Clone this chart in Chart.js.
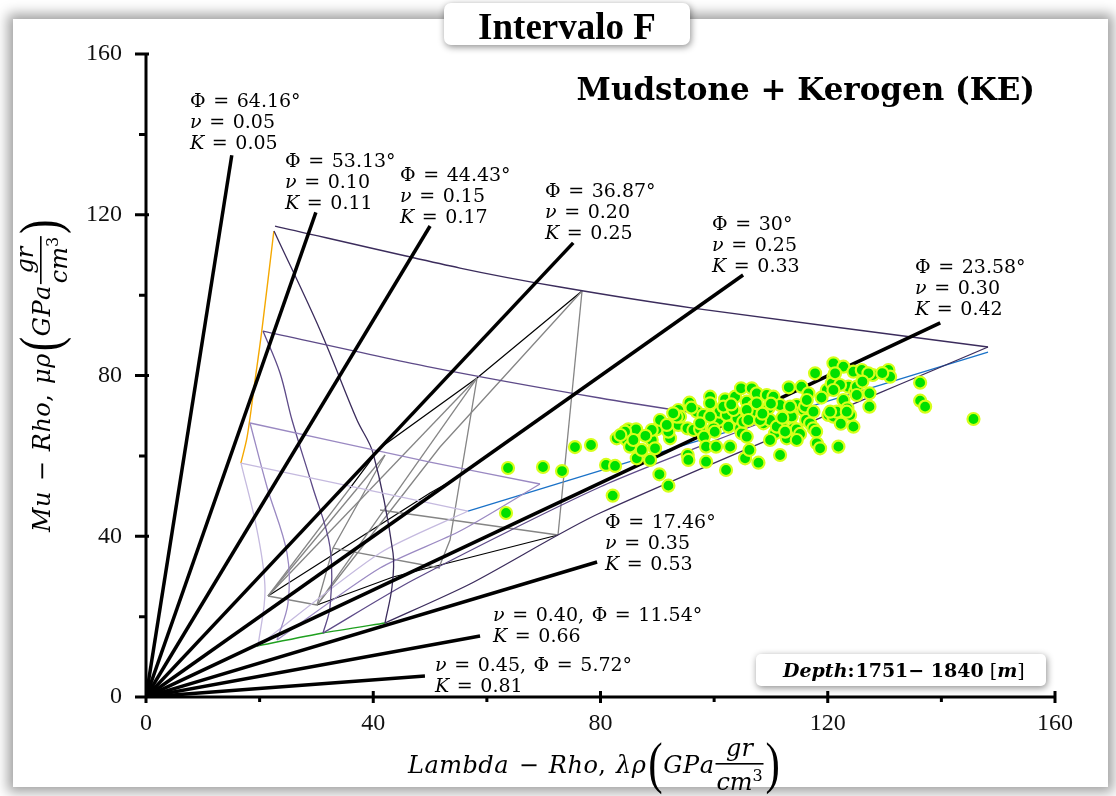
<!DOCTYPE html>
<html>
<head>
<meta charset="utf-8">
<script src="https://cdn.jsdelivr.net/npm/chart.js@4.4.0/dist/chart.umd.min.js"></script>
<style>
  html, body { margin: 0; padding: 0; background: #fff; overflow: hidden; }
  #frame { position: absolute; left: 13px; top: 19px; width: 1095px; height: 768px; background: #fff;
           box-shadow: 0 0 12px 5px rgba(0, 0, 0, 0.38); }
  #wrap { position: absolute; left: 0; top: 0; width: 1116px; height: 796px; }
</style>
</head>
<body>
<div id="frame"></div>
<div id="wrap"><canvas id="rpt"></canvas></div>
<script>
// ---- Well data (Intervalo F, 1751-1840 m) ----
const lambdaRho = [
  80.98, 82.56, 82.15, 82.85, 84.61, 84.91, 86.26, 85.20, 86.38, 88.72, 89.02, 89.60, 89.90, 90.48, 90.37,
  91.95, 92.24, 91.95, 93.71, 93.71, 94.00, 95.30, 95.65, 95.35, 95.47, 96.35, 96.94, 97.53, 98.11, 98.23,
  98.58, 98.58, 99.29, 99.29, 100.34, 100.75, 100.93, 101.93, 102.22, 102.51, 102.10, 102.81, 103.69, 104.10,
  104.57, 104.74, 104.86, 105.15, 105.45, 105.74, 106.21, 106.62, 106.91, 107.21, 107.50, 107.80, 108.68,
  109.26, 109.56, 109.85, 110.44, 110.73, 111.61, 111.61, 111.90, 112.78, 113.14, 113.66, 113.96, 114.54,
  114.54, 115.13, 115.37, 115.72, 116.01, 116.19, 116.60, 116.89, 117.48, 117.48, 117.77, 117.95, 118.07,
  118.65, 119.83, 120.12, 121.00, 121.00, 120.71, 121.00, 121.59, 121.88, 122.76, 122.76, 123.64, 123.46,
  123.94, 124.52, 124.52, 124.81, 125.11, 125.99, 127.34, 127.34, 127.92, 130.68, 130.98, 136.26, 136.26,
  137.14, 145.65,
  63.72, 69.88, 73.23, 75.51, 78.33, 63.37,
  84.32, 85.79, 89.02, 93.42, 97.53, 99.87, 101.63, 103.39, 105.74, 106.03, 107.50, 108.09, 111.02, 112.49,
  113.37, 116.31, 120.41, 121.29, 122.17, 123.35, 125.11, 127.16, 87.26, 91.66, 105.74, 109.85, 114.54,
  121.00, 99.29,
  83.5, 87.9, 92.8, 96.0, 100.1, 103.0, 108.5, 110.0, 112.0, 118.9, 122.3, 126.1, 129.6
];
const muRho = [
  57.74, 57.49, 50.11, 64.37, 63.95, 66.61, 66.61, 62.30, 59.39, 58.98, 63.95, 61.88, 66.61, 68.93, 55.41,
  52.59, 64.37, 66.03, 71.42, 67.69, 69.76, 66.86, 73.24, 60.22, 58.98, 66.44, 71.00, 66.61, 70.17, 64.78,
  62.30, 58.56, 74.73, 73.08, 62.30, 68.93, 71.00, 74.07, 70.17, 67.27, 56.49, 62.30, 74.73, 69.34,
  66.86, 76.81, 65.61, 68.51, 59.39, 73.49, 61.47, 76.81, 72.25, 71.00, 75.56, 58.31, 68.10,
  75.15, 71.83, 68.93, 74.73, 65.61, 60.22, 72.66, 67.44, 64.37, 77.06, 69.76, 66.86, 72.66,
  66.61, 65.45, 77.22, 71.42, 72.25, 68.93, 75.56, 68.10, 66.86, 71.00, 80.54, 66.03, 63.13,
  61.88, 76.39, 70.17, 83.03, 79.71, 78.05, 69.76, 71.00, 62.30, 82.20, 73.90, 77.22, 71.83,
  70.17, 80.95, 67.27, 75.98, 77.22, 81.37, 72.25, 75.56, 80.12, 81.37, 79.71, 78.22, 73.74,
  72.25, 69.18,
  56.98, 57.23, 56.23, 62.20, 62.70, 45.78,
  66.03, 63.95, 66.44, 69.76, 68.10, 66.86, 72.25, 71.42, 71.42, 68.93, 73.08, 68.93, 67.27, 66.03,
  72.25, 73.90, 71.00, 80.54, 77.64, 71.00, 75.15, 80.54, 61.47, 67.69, 64.78, 63.95, 63.95,
  76.39, 69.76,
  65.2, 65.0, 70.6, 72.0, 66.0, 72.8, 70.5, 73.0, 69.5, 74.5, 68.0, 78.5, 80.6
];

// ---- Poisson ratio lines from the origin (end points) ----
const nuValues = ['0.05', '0.10', '0.15', '0.20', '0.25', '0.30', '0.35', '0.40', '0.45'];
const phiValues = ['64.16', '53.13', '44.43', '36.87', '30', '23.58', '17.46', '11.54', '5.72'];
const kValues = ['0.05', '0.11', '0.17', '0.25', '0.33', '0.42', '0.53', '0.66', '0.81'];
const nuEndX = [15.1, 29.9, 50.0, 75.2, 105.1, 139.8, 79.4, 58.8, 49.1];
const nuEndY = [134.8, 120.6, 117.2, 113.0, 105.0, 93.1, 33.6, 15.2, 5.2];

// ---- Mudstone + kerogen template ----
const orangeEdge = [[22.5, 115.9], [20.4, 91.3], [19.2, 78.9], [17.8, 64.7], [16.7, 58.2]];
const greenEdge = [[19.54, 12.69], [31.16, 15.92], [42.07, 18.41]];
const blueEdge = [[56.68, 46.28], [148.21, 85.84]];
const rowA = [[22.71, 117.19], [55.27, 106.74], [72.87, 102.02], [96.29, 96.79], [148.21, 87.09]];
const rowB = [[20.6, 91.07], [50.0, 82.11], [79.9, 74.40], [101.0, 69.67], [108.08, 68.18]];
const rowC = [[18.31, 68.18], [49.99, 58.47], [69.35, 53.0]];
const rowD = [[16.72, 58.22], [49.99, 48.27], [56.68, 46.28]];
const colA = [[22.53, 115.95], [30.63, 91.32], [37.14, 68.92], [39.96, 60.71], [43.48, 35.83], [43.30, 27.37], [42.07, 18.41]];
const colB = [[20.6, 91.07], [23.59, 80.61], [25.70, 68.92], [29.22, 52.75], [32.39, 37.32], [32.39, 22.39], [31.16, 15.92]];
const colC = [[18.31, 68.18], [21.30, 52.25], [24.82, 35.83], [25.00, 23.39], [23.06, 14.18]];
const colD = [[16.72, 58.22], [19.54, 41.55], [20.95, 26.62], [19.72, 12.69]];
const riseA = [[42.07, 18.41], [57.03, 28.12], [79.92, 45.78], [148.21, 87.09]];
const riseB = [[31.16, 15.92], [47.03, 29.11], [79.92, 52.25], [108.08, 68.18]];
const riseC = [[23.06, 14.18], [41.19, 32.10], [55.27, 41.30], [69.35, 53.0]];
const riseD = [[19.72, 12.69], [41.19, 35.83], [56.68, 46.28]];

// second (gray / black) mesh
const grayLines = [
  [[76.75, 101.02], [72.52, 40.31]],
  [[58.26, 79.37], [53.51, 39.06], [51.75, 32.84]],
  [[42.07, 60.21], [32.92, 37.07], [30.10, 22.89]],
  [[35.91, 52.00], [21.48, 25.13]],
  [[21.48, 25.13], [42.07, 60.21]],
  [[21.48, 25.13], [58.26, 79.37]],
  [[30.10, 22.89], [58.26, 79.37]],
  [[76.75, 101.02], [51.75, 62.20], [30.10, 22.89]],
  [[72.52, 40.31], [41.19, 46.53]],
  [[32.92, 37.07], [51.75, 32.10]],
  [[21.48, 25.13], [30.10, 22.89]]
];
const blackThin = [
  [[76.75, 101.02], [58.26, 79.37], [41.19, 61.96], [35.91, 52.00]],
  [[21.48, 25.13], [49.99, 50.76], [55.27, 54.99]],
  [[72.52, 40.31], [43.48, 29.86], [30.10, 22.89]]
];

const PURPLE = ['#3b2c5c', '#5d4a88', '#9a89c2', '#c5badf'];
const SERIF = 'DejaVu Serif';

const pts = arr => arr.map(p => ({ x: p[0], y: p[1] }));
const lineSet = (arr, color, width, tension) => ({
  data: pts(arr), showLine: true, borderColor: color, borderWidth: width,
  pointRadius: 0, tension: tension || 0, order: 5
});

const datasets = [];
datasets.push({
  data: lambdaRho.map((v, i) => ({ x: v, y: muRho[i] })),
  pointRadius: 6, pointBorderWidth: 2.2,
  backgroundColor: '#00e000', borderColor: '#d6ff1a', order: 0
});
nuEndX.forEach((ex, i) => {
  datasets.push(lineSet([[0, 0], [ex, nuEndY[i]]], '#000', 3.5, 0));
});
[rowA, rowB, rowC, rowD].forEach((r, i) => datasets.push(lineSet(r, PURPLE[i], 1.3, 0.25)));
[colA, colB, colC, colD].forEach((c, i) => datasets.push(lineSet(c, PURPLE[i], 1.3, 0.35)));
[riseA, riseB, riseC, riseD].forEach((c, i) => datasets.push(lineSet(c, PURPLE[i], 1.3, 0.25)));
grayLines.forEach(g => datasets.push(lineSet(g, '#858585', 1.3, 0)));
blackThin.forEach(g => datasets.push(lineSet(g, '#000', 1.2, 0)));
datasets.push(lineSet(orangeEdge, '#f5a800', 1.4, 0.3));
datasets.push(lineSet(greenEdge, '#1fa01f', 1.4, 0.2));
datasets.push(lineSet(blueEdge, '#1a72c8', 1.3, 0));

// label anchors (first line, in axis units) and line pitch
const labelAt = [[7.75, 146.8], [24.47, 131.9], [44.71, 128.4], [70.23, 124.4], [99.63, 116.2],
                 [135.36, 105.5], [80.8, 42.05], [61.08, 18.91], [50.87, 6.47]];
const LINE_H = 21;

// draw a math-like string: latin / greek lower-case letters italic, rest upright
function mathText(ctx, str, x, y, size, bold, measureOnly, track) {
  let cx = x;
  const tr = track || 0;
  for (const ch of str) {
    if (ch === ' ') { cx += size * 0.4; continue; }
    const ital = /[A-Za-zνλρμ]/.test(ch);
    ctx.font = (ital ? 'italic ' : '') + (bold ? 'bold ' : '') + size + 'px "' + SERIF + '"';
    if (!measureOnly) ctx.fillText(ch, cx, y);
    cx += ctx.measureText(ch).width + tr;
  }
  return cx - x;
}

function paren(ctx, ch, x, y) {
  ctx.save();
  ctx.translate(x, y + 9);
  ctx.scale(0.8, 1.05);
  ctx.font = '54px "Liberation Serif"';
  ctx.fillText(ch, 0, 0);
  ctx.restore();
  return 13;
}

// "Lambda − Rho, λρ (GPa gr/cm3)" with a stacked fraction
function axisTitle(ctx, main, x, y, track) {
  const s = 24;
  let cx = x + mathText(ctx, main, x, y, s, false, false, track);
  cx += 2 + paren(ctx, '(', cx + 2, y) + 2;
  cx += mathText(ctx, 'GPa', cx, y, s, false, false, track);
  const fw = 48;
  ctx.fillRect(cx + 1, y - 10, fw, 1.6);
  const nw = mathText(ctx, 'gr', 0, 0, s, false, true);
  mathText(ctx, 'gr', cx + 1 + (fw - nw) / 2, y - 17, s);
  const dw = mathText(ctx, 'cm', 0, 0, s, false, true);
  mathText(ctx, 'cm', cx + 1 + (fw - dw - 10) / 2, y + 17, s);
  ctx.font = '16px "' + SERIF + '"';
  ctx.fillText('3', cx + 1 + (fw - dw - 10) / 2 + dw, y + 8);
  cx += fw + 3;
  paren(ctx, ')', cx, y);
}

function boxShadowRect(ctx, x, y, w, h, r) {
  ctx.save();
  ctx.shadowColor = 'rgba(0,0,0,0.45)';
  ctx.shadowBlur = 7;
  ctx.shadowOffsetX = 1;
  ctx.shadowOffsetY = 2;
  ctx.fillStyle = '#fff';
  ctx.beginPath();
  ctx.roundRect(x, y, w, h, r);
  ctx.fill();
  ctx.restore();
}

const decor = {
  id: 'decor',
  afterDraw(chart) {
    const { ctx, chartArea: a, scales: { x, y } } = chart;
    ctx.save();

    // axes and ticks
    ctx.strokeStyle = '#000';
    ctx.lineWidth = 3;
    ctx.beginPath();
    ctx.moveTo(a.left, a.top);
    ctx.lineTo(a.left, a.bottom);
    ctx.lineTo(a.right, a.bottom);
    x.ticks.forEach(t => {
      const px = x.getPixelForValue(t.value);
      const major = t.value % 40 === 0;
      ctx.moveTo(px, a.bottom - (major ? 6 : 0));
      ctx.lineTo(px, a.bottom + (major ? 6 : 5));
    });
    y.ticks.forEach(t => {
      const py = y.getPixelForValue(t.value);
      const major = t.value % 40 === 0;
      ctx.moveTo(a.left - (major ? 11 : 7), py);
      ctx.lineTo(a.left + (major ? 3 : 0), py);
    });
    ctx.stroke();

    // Poisson ratio annotations
    ctx.fillStyle = '#000';
    ctx.textBaseline = 'alphabetic';
    ctx.textAlign = 'left';
    labelAt.forEach((p, i) => {
      const lx = x.getPixelForValue(p[0]);
      const ly = y.getPixelForValue(p[1]);
      let lines;
      if (i < 7) {
        lines = ['Φ = ' + phiValues[i] + '°', 'ν = ' + nuValues[i], 'K = ' + kValues[i]];
      } else {
        lines = ['ν = ' + nuValues[i] + ', Φ = ' + phiValues[i] + '°', 'K = ' + kValues[i]];
      }
      lines.forEach((s, j) => mathText(ctx, s, lx, ly + j * LINE_H, 19));
    });

    // subtitle
    ctx.font = 'bold 31px "' + SERIF + '"';
    ctx.textAlign = 'right';
    ctx.fillText('Mudstone + Kerogen (KE)', 1035, 100);
    ctx.textAlign = 'left';

    // axis titles
    axisTitle(ctx, 'Lambda − Rho, λρ', 408, 773, 0.5);
    ctx.save();
    ctx.translate(50, 532);
    ctx.rotate(-Math.PI / 2);
    axisTitle(ctx, 'Mu − Rho, μρ', 0, 0, 0.5);
    ctx.restore();

    // depth box
    boxShadowRect(ctx, 756, 654, 290, 32, 5);
    ctx.fillStyle = '#000';
    let cx = 783;
    cx += mathText(ctx, 'Depth', cx, 677, 19, true);
    ctx.font = 'bold 19px "' + SERIF + '"';
    ctx.fillText(':', cx, 677);
    cx += ctx.measureText(':').width + 1;
    ctx.fillText('1751− 1840', cx, 677);
    cx += ctx.measureText('1751− 1840').width + 6;
    ctx.font = '19px "' + SERIF + '"';
    ctx.fillText('[', cx, 677);
    cx += ctx.measureText('[').width;
    cx += mathText(ctx, 'm', cx, 677, 19, true);
    ctx.font = '19px "' + SERIF + '"';
    ctx.fillText(']', cx, 677);

    // title box
    boxShadowRect(ctx, 444, 3, 246, 42, 7);
    ctx.fillStyle = '#000';
    ctx.font = 'bold 37px "Liberation Serif"';
    ctx.textAlign = 'center';
    ctx.fillText('Intervalo F', 567, 39);

    ctx.restore();
  }
};

new Chart(document.getElementById('rpt'), {
  type: 'scatter',
  data: { datasets },
  options: {
    responsive: true,
    maintainAspectRatio: false,
    animation: false,
    events: [],
    layout: { padding: { top: 54, right: 61, left: 0, bottom: 0 } },
    plugins: { legend: { display: false }, tooltip: { enabled: false } },
    scales: {
      x: {
        type: 'linear', min: 0, max: 160,
        afterFit: s => { s.height = 99; },
        grid: { display: false, drawTicks: false },
        border: { display: false },
        ticks: {
          stepSize: 20, autoSkip: false, maxRotation: 0, padding: 12, color: '#111',
          font: { family: 'Liberation Serif', size: 24 },
          callback: v => (v % 40 === 0 ? v : '')
        }
      },
      y: {
        type: 'linear', min: 0, max: 160,
        afterFit: s => { s.width = 146; },
        grid: { display: false, drawTicks: false },
        border: { display: false },
        ticks: {
          stepSize: 20, autoSkip: false, padding: 24, color: '#111',
          font: { family: 'Liberation Serif', size: 24 },
          callback: v => (v % 40 === 0 ? v : '')
        }
      }
    }
  },
  plugins: [decor]
});
</script>
</body>
</html>
